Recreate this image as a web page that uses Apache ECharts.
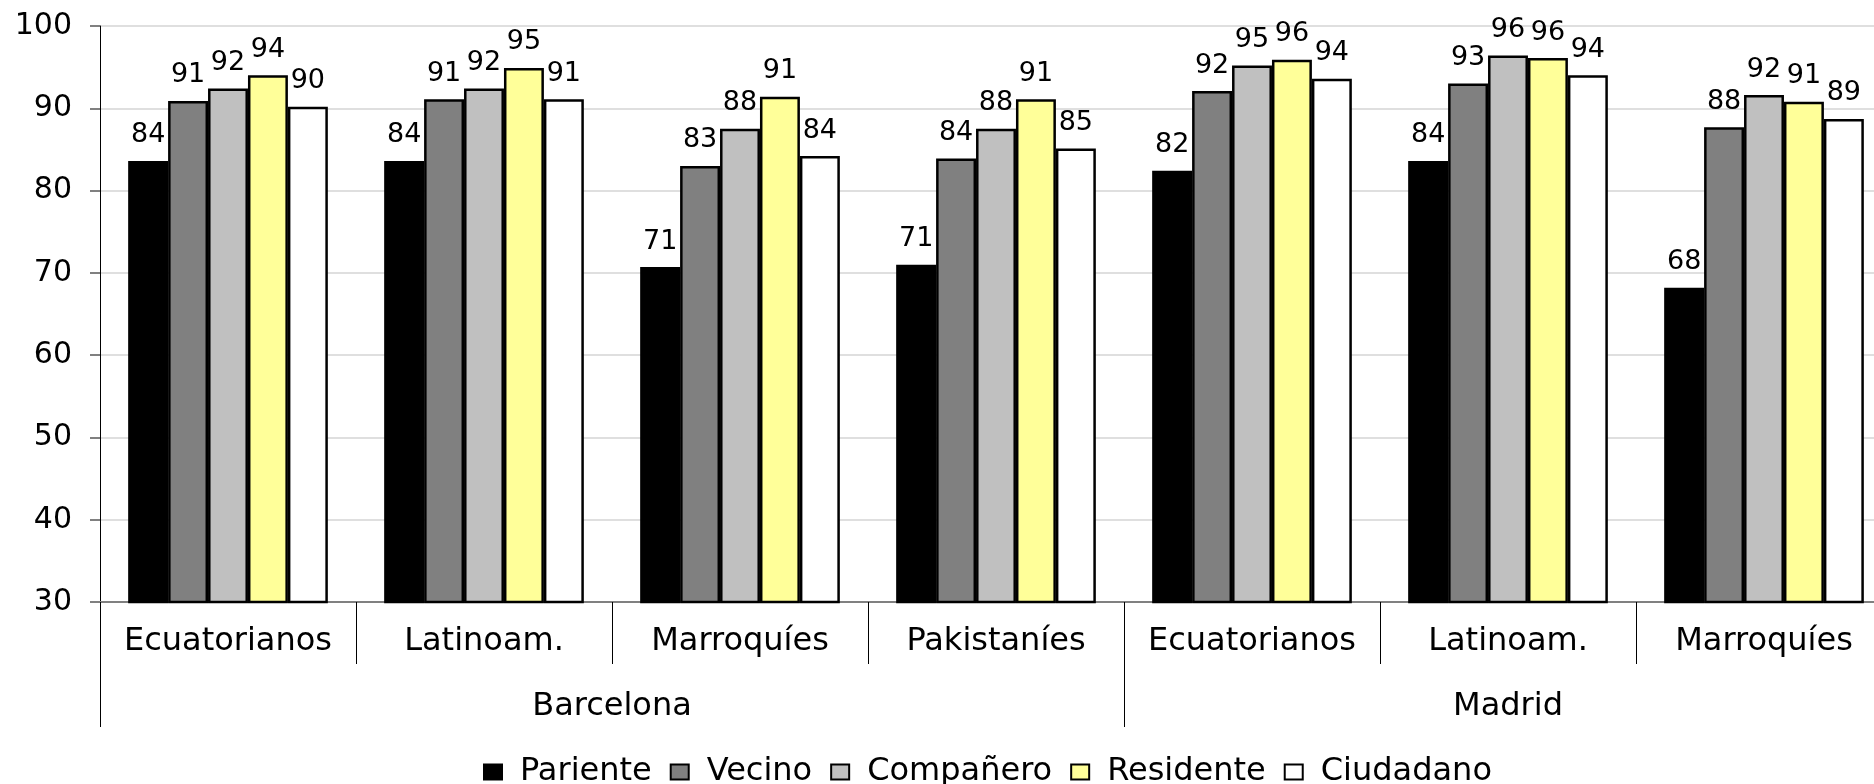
<!DOCTYPE html>
<html>
<head>
<meta charset="utf-8">
<script src="https://cdn.jsdelivr.net/npm/echarts@6/dist/echarts.min.js"></script>
<style>
html,body{margin:0;padding:0;background:#fff;}
#chart{width:1874px;height:784px;}
</style>
</head>
<body>
<div id="chart"></div>
<script>
const categories = ['Ecuatorianos','Latinoam.','Marroquíes','Pakistaníes','Ecuatorianos','Latinoam.','Marroquíes'];
const cities = ['Barcelona','Madrid'];
const cityCenters = [2, 5.5];
const cityBounds = [0, 4, 7];
const seriesNames = ['Pariente','Vecino','Compañero','Residente','Ciudadano'];
const pariente  = [83.6, 83.6, 70.7, 71.0, 82.4, 83.6, 68.2];
const vecino    = [90.9, 91.1, 83.0, 83.9, 92.1, 93.0, 87.7];
const companero = [92.4, 92.4, 87.5, 87.5, 95.2, 96.4, 91.6];
const residente = [94.0, 94.9, 91.4, 91.1, 95.9, 96.1, 90.8];
const ciudadano = [90.2, 91.1, 84.2, 85.1, 93.6, 94.0, 88.7];
const yTicks = [30, 40, 50, 60, 70, 80, 90, 100];

const colors = ['#000000','#808080','#c0c0c0','#ffff99','#ffffff'];
const values = [pariente, vecino, companero, residente, ciudadano];
const FONT = 'DejaVu Sans';

const chart = echarts.init(document.getElementById('chart'), null, {renderer:'canvas'});
chart.setOption({
  animation: false,
  backgroundColor: '#ffffff',
  textStyle: {fontFamily: FONT, color: '#000'},
  grid: {left: 100, width: 1792, top: 26, bottom: 182, containLabel: false, outerBoundsMode: 'none'},
  legend: {
    left: 478, top: 751,
    itemWidth: 18, itemHeight: 15, itemGap: 18,
    icon: 'rect',
    textStyle: {fontFamily: FONT, fontSize: 32, color: '#000', padding: [0,0,0,13]},
    data: seriesNames
  },
  xAxis: [
    {
      type: 'category', data: categories, position: 'bottom',
      axisLine: {show: true, lineStyle: {color: '#808080', width: 2}},
      axisTick: {show: true, interval: 0, length: 62, lineStyle: {color: '#000', width: 1}},
      axisLabel: {interval: 0, margin: 24, fontSize: 32, fontFamily: FONT, color: '#000'},
      splitLine: {show: false}
    },
    {
      type: 'value', min: 0, max: 7, position: 'bottom',
      axisLine: {show: false},
      axisTick: {show: true, customValues: cityBounds, length: 125, lineStyle: {color: '#000', width: 1}},
      axisLabel: {show: true, customValues: cityCenters, margin: 89, fontSize: 32, fontFamily: FONT, color: '#000',
        formatter: function (v) { const i = cityCenters.indexOf(v); return i >= 0 ? cities[i] : ''; }},
      splitLine: {show: false}
    }
  ],
  yAxis: {
    type: 'value', min: yTicks[0], max: yTicks[yTicks.length-1], interval: 10,
    axisLine: {show: true, lineStyle: {color: '#000', width: 1}},
    axisTick: {show: true, length: 10, lineStyle: {color: '#808080', width: 2}},
    axisLabel: {margin: 28, fontSize: 30, fontFamily: FONT, color: '#000'},
    splitLine: {show: true, lineStyle: {color: '#d4d4d4', width: 1.5}}
  },
  series: seriesNames.map(function (name, i) {
    return {
      name: name, type: 'bar', xAxisIndex: 0,
      data: values[i],
      barGap: '0%', barCategoryGap: '22%',
      itemStyle: {color: colors[i], borderColor: '#000', borderWidth: 2.5},
      label: {show: true, position: 'top', distance: 12, fontSize: 27, fontFamily: FONT, color: '#000',
        formatter: function (p) { return Math.round(p.value); }}
    };
  })
});
</script>
</body>
</html>
